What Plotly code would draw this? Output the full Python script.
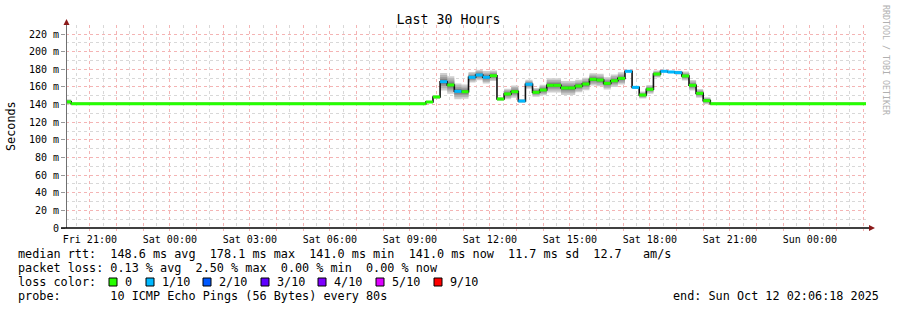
import pandas as pd
import plotly.graph_objects as go

# ---------------- data ----------------
PLOT_START = "2025-10-10 20:06:18"
PLOT_END = "2025-10-12 02:06:18"
FIRST_STEP_END = "2025-10-10 20:18"
ACTIVE_START = "2025-10-11 09:36"
STEP_MINUTES = 16

first_step_ms = 143.0
baseline_ms = 141.0

median_ms = [142.9, 148.6, 165.9, 162.2, 155.0, 154.6, 170.9, 173.5, 170.9, 172.7,
             146.3, 152.0, 154.6, 144.0, 163.0, 153.9, 156.5, 161.8, 161.8, 158.8,
             158.8, 161.0, 163.3, 168.6, 167.8, 164.0, 167.0, 169.7, 177.7, 159.5,
             150.8, 157.3, 174.6, 177.7, 176.9, 176.2, 172.4, 161.8, 152.7, 144.4]
smoke_ms = [1.0, 2.0, 10.0, 10.0, 9.0, 8.0, 6.0, 6.0, 7.0, 6.0,
            2.0, 6.0, 7.0, 2.0, 5.0, 5.0, 6.0, 8.0, 8.0, 8.0,
            8.0, 7.0, 7.0, 7.0, 7.0, 7.0, 7.0, 7.0, 1.0, 1.0,
            4.0, 5.0, 4.0, 1.0, 1.0, 2.0, 5.0, 6.0, 5.0, 4.0]
loss_tenths = [0, 0, 1, 0, 1, 0, 1, 1, 1, 0,
               0, 0, 0, 1, 1, 0, 0, 0, 0, 0,
               0, 0, 0, 0, 0, 0, 0, 0, 1, 1,
               0, 0, 0, 1, 1, 1, 0, 0, 0, 0]

loss_labels = ["0", "1/10", "2/10", "3/10", "4/10", "5/10", "9/10"]
loss_keys = [0, 1, 2, 3, 4, 5, 9]
loss_colors = ["#26ff00", "#00b8ff", "#0059ff", "#5e00ff", "#7e00ff", "#dd00ff", "#ff0000"]

y_tick_vals = [0, 20, 40, 60, 80, 100, 120, 140, 160, 180, 200, 220]

stats_lines = [
    "median rtt:  148.6 ms avg  178.1 ms max  141.0 ms min  141.0 ms now  11.7 ms sd  12.7   am/s",
    "packet loss: 0.13 % avg  2.50 % max  0.00 % min  0.00 % now",
]
probe_text = "probe:       10 ICMP Echo Pings (56 Bytes) every 80s"
end_text = "end: Sun Oct 12 02:06:18 2025"

# ---------------- build series ----------------
t_start = pd.Timestamp(PLOT_START)
t_end = pd.Timestamp(PLOT_END)
active = [pd.Timestamp(ACTIVE_START) + pd.Timedelta(minutes=STEP_MINUTES * i)
          for i in range(len(median_ms) + 1)]

bounds = [t_start, pd.Timestamp(FIRST_STEP_END)] + active + [t_end]
values = [first_step_ms, baseline_ms] + median_ms + [baseline_ms]
spreads = [3.0, 0.0] + smoke_ms + [0.0]
losses = [0, 0] + loss_tenths + [0]

fig = go.Figure()

# smoke: one filled box per step, several shades
SHADES = [(1.0, "#cfcfcf"), (0.75, "#b4b4b4"), (0.5, "#989898"), (0.28, "#7a7a7a")]
for frac, col in SHADES:
    bx, by = [], []
    for i in range(len(values)):
        s = spreads[i] * frac
        if s <= 0:
            continue
        a, b = bounds[i], bounds[i + 1]
        v = values[i]
        bx += [a, b, b, a, a, None]
        by += [v - s, v - s, v + s, v + s, v - s, None]
    fig.add_trace(go.Scatter(x=bx, y=by, mode="lines", fill="toself", fillcolor=col,
                             line=dict(width=0, color=col), hoverinfo="skip", showlegend=False))

# black median connector
fig.add_trace(go.Scatter(x=bounds, y=values + [values[-1]], mode="lines",
                         line=dict(color="#111111", width=1.6, shape="hv"),
                         hoverinfo="skip", showlegend=False))

# colored median segments by loss
for key, col in zip(loss_keys, loss_colors):
    sx, sy = [], []
    for i in range(len(values)):
        if losses[i] == key:
            sx += [bounds[i], bounds[i + 1], None]
            sy += [values[i], values[i], None]
    if sx:
        fig.add_trace(go.Scatter(x=sx, y=sy, mode="lines", line=dict(color=col, width=3),
                                 hoverinfo="skip", showlegend=False))

# ---------------- layout ----------------
W, H = 897, 310
PL, PR, PT, PB = 66, 866, 25, 228
Y_TOP = (PB - PT) / ((PB - 34) / 220.0)


def px(x):
    return (x - PL) / (PR - PL)


def py(y):
    return (PB - y) / (PB - PT)


FONT = "DejaVu Sans Mono"

hours = pd.date_range("2025-10-10 21:00", "2025-10-12 02:00", freq="1h")
tick_text = [h.strftime("%a %H:%M") if h.hour % 3 == 0 else "" for h in hours]

fig.update_layout(
    width=W, height=H,
    margin=dict(l=PL, r=W - PR, t=PT, b=H - PB),
    paper_bgcolor="white", plot_bgcolor="white",
    font=dict(family=FONT, size=10, color="#000000"),
    title=dict(text="Last 30 Hours", x=0.5, xref="container", xanchor="center",
               y=1 - 19 / H, yref="container", yanchor="middle",
               font=dict(family=FONT, size=13.3, color="#000000")),
    showlegend=False,
)

fig.update_xaxes(
    type="date", range=[t_start, t_end],
    tickvals=list(hours), ticktext=tick_text,
    showgrid=True, gridcolor="#f4b4b4", griddash="dot", gridwidth=1,
    ticks="outside", ticklen=2, tickcolor="#f4b4b4",
    tickfont=dict(family=FONT, size=10, color="#000000"),
    ticklabelstandoff=0,
    showline=False, zeroline=False,
    minor=dict(dtick=30 * 60 * 1000, tick0="2025-10-10 20:30", showgrid=True,
               gridcolor="#d8d8d8", griddash="dot", ticks=""),
)
fig.update_yaxes(
    range=[0, Y_TOP],
    tickvals=y_tick_vals,
    ticktext=[("%d m" % v) if v else "0" for v in y_tick_vals],
    showgrid=True, gridcolor="#f4b4b4", griddash="dot", gridwidth=1,
    ticks="outside", ticklen=4, tickcolor="#999999",
    tickfont=dict(family=FONT, size=10, color="#000000"),
    showline=False, zeroline=False,
    minor=dict(dtick=10, tick0=0, showgrid=True, gridcolor="#d8d8d8", griddash="dot", ticks=""),
)

shapes = []
shapes.append(dict(type="line", xref="paper", yref="paper", x0=px(66.5), x1=px(66.5),
                   y0=py(228), y1=py(24), line=dict(color="#707070", width=1)))
shapes.append(dict(type="line", xref="paper", yref="paper", x0=px(61), x1=px(870),
                   y0=py(228), y1=py(228), line=dict(color="#000000", width=1.5)))


def path_tri(points):
    s = "M %f %f" % (px(points[0][0]), py(points[0][1]))
    for p in points[1:]:
        s += " L %f %f" % (px(p[0]), py(p[1]))
    return s + " Z"


shapes.append(dict(type="path", xref="paper", yref="paper",
                   path=path_tri([(66.5, 19), (63.5, 25), (69.5, 25)]),
                   fillcolor="#8b1a1a", line=dict(width=0)))
shapes.append(dict(type="path", xref="paper", yref="paper",
                   path=path_tri([(875, 228), (869, 225), (869, 231)]),
                   fillcolor="#8b1a1a", line=dict(width=0)))

box_x = [109, 146, 203, 261, 318, 376, 434]
for bx, col in zip(box_x, loss_colors):
    shapes.append(dict(type="rect", xref="paper", yref="paper",
                       x0=px(bx), x1=px(bx + 8), y0=py(286), y1=py(278),
                       fillcolor=col, line=dict(color="#000000", width=1)))
fig.update_layout(shapes=shapes)

ann = []
TF = dict(family=FONT, size=11.8, color="#000000")
for i, line in enumerate(stats_lines):
    ann.append(dict(text=line.replace(" ", "&nbsp;"), x=px(16), y=py(254 + 14 * i),
                    xref="paper", yref="paper", xanchor="left", yanchor="middle",
                    showarrow=False, font=TF))
ann.append(dict(text="loss color:", x=px(16), y=py(282), xref="paper", yref="paper",
                xanchor="left", yanchor="middle", showarrow=False, font=TF))
for bx, lab in zip(box_x, loss_labels):
    ann.append(dict(text=lab, x=px(bx + 14), y=py(282), xref="paper", yref="paper",
                    xanchor="left", yanchor="middle", showarrow=False, font=TF))
ann.append(dict(text=probe_text.replace(" ", "&nbsp;"), x=px(16), y=py(296),
                xref="paper", yref="paper", xanchor="left", yanchor="middle",
                showarrow=False, font=TF))
ann.append(dict(text=end_text.replace(" ", "&nbsp;"), x=px(881), y=py(296),
                xref="paper", yref="paper", xanchor="right", yanchor="middle",
                showarrow=False, font=TF))
ann.append(dict(text="Seconds", x=px(11), y=py(126), xref="paper", yref="paper",
                xanchor="center", yanchor="middle", textangle=-90, showarrow=False, font=TF))
ann.append(dict(text="RRDTOOL&nbsp;/&nbsp;TOBI&nbsp;OETIKER", x=px(886), y=py(60),
                xref="paper", yref="paper", xanchor="center", yanchor="middle",
                textangle=90, showarrow=False,
                font=dict(family=FONT, size=8.3, color="#b0b0b0")))
fig.update_layout(annotations=ann)

fig.write_html("out.html")
